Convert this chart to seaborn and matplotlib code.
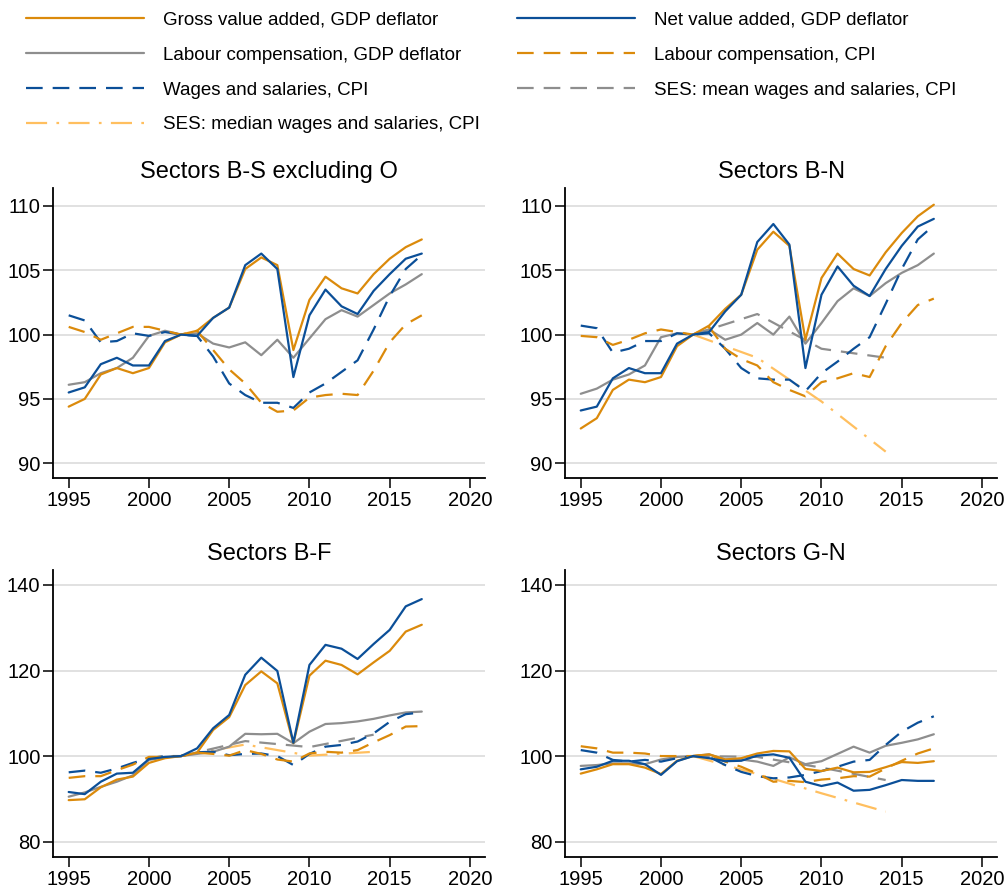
import matplotlib
matplotlib.use("Agg")
import pandas as pd
import matplotlib.pyplot as plt
from matplotlib.lines import Line2D
import seaborn as sns

years = list(range(1995, 2018))
ses_years = [2002, 2006, 2010, 2014]

# Sectors B-S excluding O
bso_gva = [94.4, 95.0, 96.9, 97.4, 97.0, 97.4, 99.4, 100.0, 100.3, 101.3, 102.1, 105.1,
           106.0, 105.4, 98.8, 102.7, 104.5, 103.6, 103.2, 104.7, 105.9, 106.8, 107.4]
bso_nva = [95.5, 95.9, 97.7, 98.2, 97.6, 97.6, 99.5, 100.0, 99.9, 101.3, 102.1, 105.4,
           106.3, 105.1, 96.7, 101.5, 103.5, 102.2, 101.6, 103.4, 104.7, 105.9, 106.3]
bso_lc_gdp = [96.1, 96.3, 97.0, 97.4, 98.2, 99.9, 100.3, 100.0, 100.1, 99.3, 99.0, 99.4,
              98.4, 99.6, 98.2, 99.7, 101.2, 101.9, 101.4, 102.3, 103.2, 103.9, 104.7]
bso_lc_cpi = [100.6, 100.2, 99.6, 100.1, 100.6, 100.6, 100.3, 100.0, 100.3, 98.8, 97.3, 96.2,
              94.7, 94.0, 94.1, 95.1, 95.3, 95.4, 95.3, 97.2, 99.4, 100.8, 101.5]
bso_ws_cpi = [101.5, 101.1, 99.4, 99.5, 100.1, 99.9, 100.2, 100.0, 99.9, 98.3, 96.2, 95.3,
              94.7, 94.7, 94.3, 95.5, 96.2, 97.1, 98.0, 100.4, 103.0, 105.1, 106.2]

# Sectors B-N
bn_gva = [92.7, 93.5, 95.7, 96.5, 96.3, 96.7, 99.1, 100.0, 100.7, 102.0, 103.1, 106.6,
          108.0, 106.9, 99.6, 104.4, 106.3, 105.1, 104.6, 106.4, 107.9, 109.2, 110.1]
bn_nva = [94.1, 94.4, 96.6, 97.4, 97.0, 97.0, 99.3, 100.0, 100.2, 101.8, 103.1, 107.2,
          108.6, 107.0, 97.4, 103.1, 105.3, 103.8, 103.0, 105.1, 106.9, 108.4, 109.0]
bn_lc_gdp = [95.4, 95.8, 96.5, 96.9, 97.6, 99.8, 100.1, 100.0, 100.4, 99.6, 100.0, 100.9,
             100.0, 101.4, 99.3, 100.9, 102.6, 103.6, 103.0, 104.0, 104.8, 105.4, 106.3]
bn_lc_cpi = [99.9, 99.8, 99.2, 99.6, 100.1, 100.4, 100.2, 100.0, 100.6, 98.9, 98.1, 97.6,
             96.3, 95.7, 95.2, 96.3, 96.6, 97.0, 96.7, 99.1, 100.9, 102.3, 102.8]
bn_ws_cpi = [100.7, 100.5, 98.6, 98.9, 99.5, 99.5, 100.1, 100.0, 100.1, 98.9, 97.4, 96.6,
             96.5, 96.5, 95.6, 97.0, 97.9, 98.9, 99.8, 102.4, 105.1, 107.4, 108.5]
bn_ses_mean = [100.0, 101.6, 98.9, 98.2]
bn_ses_median = [100.0, 98.2, 94.8, 90.9]

# Sectors B-F
bf_gva = [89.7, 89.9, 92.7, 94.5, 95.2, 98.4, 99.5, 100.0, 100.8, 106.1, 109.1, 116.6,
          119.8, 117.0, 103.0, 118.8, 122.3, 121.3, 119.1, 121.9, 124.6, 129.1, 130.7]
bf_nva = [91.6, 91.1, 94.0, 95.9, 96.1, 99.3, 99.8, 100.0, 101.8, 106.5, 109.6, 119.0,
          123.0, 119.9, 103.1, 121.3, 126.0, 125.1, 122.7, 126.2, 129.5, 135.0, 136.7]
bf_lc_gdp = [90.5, 91.5, 92.8, 94.0, 95.5, 99.1, 99.7, 100.0, 100.5, 101.0, 102.2, 105.2,
             105.1, 105.2, 103.0, 105.7, 107.5, 107.7, 108.1, 108.7, 109.5, 110.2, 110.4]
bf_lc_cpi = [94.9, 95.3, 95.3, 96.7, 98.0, 99.8, 99.8, 100.0, 100.8, 100.5, 100.1, 101.4,
             100.5, 99.2, 98.7, 100.6, 101.0, 100.8, 101.4, 103.2, 104.9, 106.9, 107.0]
bf_ws_cpi = [96.2, 96.6, 96.1, 97.1, 98.4, 99.5, 100.0, 100.0, 100.9, 101.0, 100.2, 100.5,
             100.6, 100.0, 97.9, 100.5, 102.2, 102.6, 103.4, 105.3, 108.0, 109.8, 110.2]
bf_ses_mean = [100.0, 103.5, 102.1, 105.0]
bf_ses_median = [100.0, 102.7, 100.1, 101.0]

# Sectors G-N
gn_gva = [95.9, 96.9, 98.1, 98.1, 97.3, 95.8, 98.9, 100.0, 100.4, 99.2, 99.5, 100.6,
          101.2, 101.1, 97.0, 96.5, 97.3, 96.2, 96.3, 97.4, 98.6, 98.4, 98.8]
gn_nva = [96.9, 97.5, 98.9, 98.9, 98.1, 95.6, 98.8, 100.0, 99.5, 98.8, 98.9, 100.1,
          100.4, 99.6, 94.0, 93.0, 93.8, 91.9, 92.1, 93.2, 94.4, 94.2, 94.2]
gn_lc_gdp = [97.7, 97.9, 98.3, 98.3, 98.1, 99.2, 99.8, 100.0, 100.4, 99.2, 99.2, 98.7,
             97.7, 99.7, 98.1, 98.8, 100.5, 102.2, 100.8, 102.4, 103.1, 103.9, 105.1]
gn_lc_cpi = [102.3, 101.8, 100.8, 100.8, 100.6, 100.0, 100.0, 100.0, 100.4, 98.7, 97.5, 95.9,
             94.0, 94.2, 93.9, 94.5, 94.8, 95.3, 95.2, 97.1, 98.9, 100.6, 101.8]
gn_ws_cpi = [101.4, 100.8, 99.1, 98.7, 99.1, 98.7, 99.5, 100.0, 99.8, 97.9, 96.3, 95.3,
             94.8, 95.0, 95.6, 96.5, 97.5, 98.7, 99.1, 102.6, 105.7, 107.8, 109.3]
gn_ses_mean = [100.0, 99.8, 97.3, 94.4]
gn_ses_median = [100.0, 95.8, 91.3, 87.0]

GVA = "Gross value added, GDP deflator"
NVA = "Net value added, GDP deflator"
LC_GDP = "Labour compensation, GDP deflator"
LC_CPI = "Labour compensation, CPI"
WS_CPI = "Wages and salaries, CPI"
SES_MEAN = "SES: mean wages and salaries, CPI"
SES_MED = "SES: median wages and salaries, CPI"

order = [SES_MED, SES_MEAN, LC_GDP, WS_CPI, LC_CPI, GVA, NVA]
colors = {GVA: "#DB8A0B", NVA: "#0B4F98", LC_GDP: "#8E8E8E", LC_CPI: "#DB8A0B",
          WS_CPI: "#0B4F98", SES_MEAN: "#8E8E8E", SES_MED: "#FFBF5F"}
dash_map = {GVA: "", NVA: "", LC_GDP: "", LC_CPI: (7.5, 4.5), WS_CPI: (7.5, 4.5),
            SES_MEAN: (7.5, 4.5), SES_MED: (9.5, 4.2, 1.2, 4.2)}


def make_frame(annual, ses):
    rows = []
    for name, vals in annual.items():
        rows += [(y, v, name) for y, v in zip(years, vals)]
    for name, vals in ses.items():
        rows += [(y, v, name) for y, v in zip(ses_years, vals)]
    return pd.DataFrame(rows, columns=["year", "value", "series"])


panels = [
    ("Sectors B-S excluding O",
     make_frame({GVA: bso_gva, NVA: bso_nva, LC_GDP: bso_lc_gdp, LC_CPI: bso_lc_cpi, WS_CPI: bso_ws_cpi}, {}),
     [90, 95, 100, 105, 110], (88.85, 111.4)),
    ("Sectors B-N",
     make_frame({GVA: bn_gva, NVA: bn_nva, LC_GDP: bn_lc_gdp, LC_CPI: bn_lc_cpi, WS_CPI: bn_ws_cpi},
                {SES_MEAN: bn_ses_mean, SES_MED: bn_ses_median}),
     [90, 95, 100, 105, 110], (88.85, 111.4)),
    ("Sectors B-F",
     make_frame({GVA: bf_gva, NVA: bf_nva, LC_GDP: bf_lc_gdp, LC_CPI: bf_lc_cpi, WS_CPI: bf_ws_cpi},
                {SES_MEAN: bf_ses_mean, SES_MED: bf_ses_median}),
     [80, 100, 120, 140], (76.4, 143.5)),
    ("Sectors G-N",
     make_frame({GVA: gn_gva, NVA: gn_nva, LC_GDP: gn_lc_gdp, LC_CPI: gn_lc_cpi, WS_CPI: gn_ws_cpi},
                {SES_MEAN: gn_ses_mean, SES_MED: gn_ses_median}),
     [80, 100, 120, 140], (76.4, 143.5)),
]

sns.set_theme(style="white")
plt.rcParams["font.family"] = ["Liberation Sans", "DejaVu Sans"]
plt.rcParams["text.color"] = "black"
plt.rcParams["axes.titlecolor"] = "black"

fig = plt.figure(figsize=(10.05, 8.88), dpi=100)
boxes = [(0.0527, 0.4617, 0.4299, 0.3266), (0.5622, 0.4617, 0.4299, 0.3266),
         (0.0527, 0.0349, 0.4299, 0.3232), (0.5622, 0.0349, 0.4299, 0.3232)]

for (title, df, yticks, ylim), box in zip(panels, boxes):
    ax = fig.add_axes(box)
    present = [s for s in order if s in set(df["series"])]
    sns.lineplot(data=df, x="year", y="value", hue="series", style="series",
                 hue_order=present, style_order=present, palette=colors,
                 dashes=dash_map, linewidth=1.6, estimator=None, legend=False, ax=ax)
    ax.set_xlim(1994.02, 2020.94)
    ax.set_ylim(*ylim)
    ax.set_xticks([1995, 2000, 2005, 2010, 2015, 2020])
    ax.set_yticks(yticks)
    ax.set_xlabel("")
    ax.set_ylabel("")
    ax.set_title(title, fontsize=17, pad=7, color="black")
    ax.grid(axis="y", color="#DCDCDC", linewidth=1.2)
    ax.grid(axis="x", visible=False)
    sns.despine(ax=ax)
    for side in ["left", "bottom"]:
        ax.spines[side].set_color("black")
        ax.spines[side].set_linewidth(1.3)
    ax.tick_params(axis="both", labelsize=14.5, colors="black", direction="out",
                   length=7, width=1.1, left=True, bottom=True, pad=2)

legend_order = [GVA, LC_GDP, WS_CPI, SES_MED, NVA, LC_CPI, SES_MEAN]
handles = []
for name in legend_order:
    d = dash_map[name]
    h = Line2D([], [], color=colors[name], linewidth=1.6)
    if d:
        h.set_dashes(d)
    handles.append(h)
leg = fig.legend(handles, legend_order, ncol=2, loc="upper left", bbox_to_anchor=(0.009, 1.006),
                 frameon=False, fontsize=13.5, handlelength=6.3, handletextpad=1.0,
                 columnspacing=2.0, labelspacing=0.95)
for t in leg.get_texts():
    t.set_color("black")

fig.savefig("out.png", dpi=100)
